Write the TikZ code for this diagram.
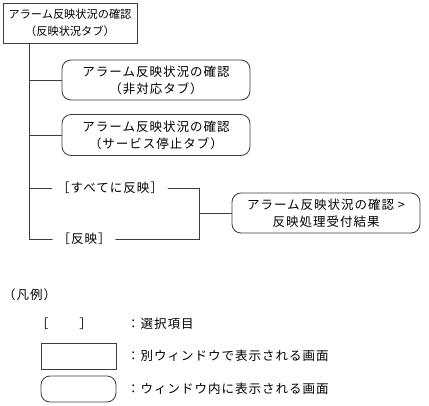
\documentclass[tikz,border=0pt]{standalone}
\usepackage{fontspec}
\newfontfamily\jp[LetterSpace=8]{Noto Sans CJK JP}
\newfontfamily\jpestrecho{Noto Sans CJK JP}
\usetikzlibrary{positioning}
\definecolor{trazo}{HTML}{3C3C3C}

\begin{document}
\begin{tikzpicture}[x=1pt,y=1pt,line cap=round,
    texto/.style={font=\fontsize{12.5}{17}\jp,text=black},
    gamen/.style={texto,draw=trazo,line width=0.8pt,align=center,inner sep=0pt},
    ventana/.style={gamen,minimum height=40pt},
    panel/.style={gamen,rounded corners=9pt,minimum height=40pt},
    conector/.style={draw=trazo,line width=0.8pt},
    item/.style={texto,inner xsep=5pt},
    nota/.style={texto,anchor=west,inner sep=0pt}]
  \useasboundingbox (0,0) rectangle (429,405);
  % pantallas
  \node[ventana,minimum width=134pt,font=\fontsize{11.2}{17}\jpestrecho] (estado) at (70,382) {アラーム反映状況の確認\\（反映状況タブ）};
  \node[panel,minimum width=188pt] (hitaio) at (156,325) {アラーム反映状況の確認\\（非対応タブ）};
  \node[panel,minimum width=188pt,minimum height=41pt] (teishi) at (156,270) {アラーム反映状況の確認\\（サービス停止タブ）};
  \node[item] (subete) at (110,217) {［すべてに反映］};
  \node[item] (hanei) at (84,166) {［反映］};
  \node[panel,minimum width=188pt] (kekka) at (326,192) {アラーム反映状況の確認 >\\反映処理受付結果};
  % conectores
  \coordinate (tronco) at ([xshift=27pt]estado.south west);
  \draw[conector] (tronco) |- (hanei.west);
  \draw[conector] (tronco |- hitaio.west) -- (hitaio.west);
  \draw[conector] (tronco |- teishi.west) -- (teishi.west);
  \draw[conector] (tronco |- subete.west) -- (subete.west);
  \coordinate (union) at ([xshift=-32pt]kekka.west);
  \draw[conector] (subete.east) -| (union) |- (hanei.east);
  \draw[conector] (union) -- (kekka.west);
  % leyenda
  \node[nota] (hanrei) at (3,110) {（凡例）};
  \node[texto] (corchete) at (64,81) {［\hspace{31pt}］};
  \node[ventana,minimum width=75pt,minimum height=26pt] (muestra1) at (78.5,49) {};
  \node[panel,minimum width=75pt,minimum height=26pt] (muestra2) at (78.5,16) {};
  \node[nota] (nota1) at (127,81) {：選択項目};
  \node[nota] (nota2) at (127,49) {：別ウィンドウで表示される画面};
  \node[nota] (nota3) at (127,16) {：ウィンドウ内に表示される画面};
\end{tikzpicture}
\end{document}
